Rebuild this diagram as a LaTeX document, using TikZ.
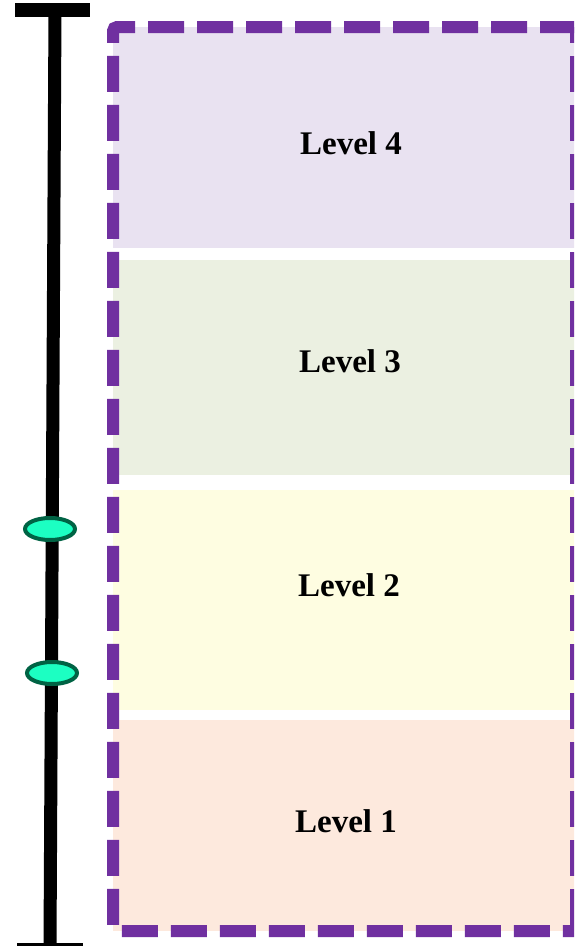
\documentclass[tikz,border=0pt]{standalone}
\usepackage{fontspec}
\setmainfont{Liberation Serif}
\usetikzlibrary{shapes.geometric}
\definecolor{lvfour}{HTML}{E9E2F1}
\definecolor{lvthree}{HTML}{EBF0E1}
\definecolor{lvtwo}{HTML}{FEFDE1}
\definecolor{lvone}{HTML}{FDE9DD}
\definecolor{dashpurple}{HTML}{7030A0}
\definecolor{markfill}{HTML}{1CFFC2}
\definecolor{markline}{HTML}{006344}
\tikzset{
  band/.style={draw=none, rectangle, inner sep=0pt, anchor=north west},
  lbl/.style={font=\fontsize{33}{36}\selectfont\bfseries, inner sep=0pt},
  marker/.style={ellipse, draw=markline, fill=markfill, line width=4pt,
    minimum width=50pt, minimum height=22pt, inner sep=0pt},
  axis/.style={line width=13pt, black},
  frame/.style={draw=dashpurple, line width=12pt, dash pattern=on 36pt off 13pt, rounded corners=4pt}
}
\begin{document}
\begin{tikzpicture}[x=1pt,y=-1pt]
\useasboundingbox (0,0) rectangle (574,946);
\clip (0,0) rectangle (574,946);
\fill[white] (0,0) rectangle (574,946);
% bands
\node[band, fill=lvfour, minimum width=463pt, minimum height=221pt] (b4) at (113,27) {};
\node[band, fill=lvthree, minimum width=463pt, minimum height=215pt] (b3) at (113,260) {};
\node[band, fill=lvtwo, minimum width=463pt, minimum height=220pt] (b2) at (113,490) {};
\node[band, fill=lvone, minimum width=463pt, minimum height=211pt] (b1) at (113,720) {};
% labels
\node[lbl] (l4) at (351,143) {Level 4};
\node[lbl] (l3) at (350,361) {Level 3};
\node[lbl] (l2) at (349,585) {Level 2};
\node[lbl] (l1) at (346,821) {Level 1};
% dashed frame
\draw[frame] (576,27) -- (113,27) -- (113,931) -- (576,931);
\draw[frame, dash phase=20pt] (576,27) -- (576,931);
% axis
\coordinate (atop) at (55,10);
\coordinate (abot) at (50,946);
\coordinate (tl) at (15,10);
\coordinate (tr) at (90,10);
\coordinate (bl) at (17,948);
\coordinate (br) at (83,948);
\draw[axis] (atop) -- (abot);
\draw[line width=14pt] (tl) -- (tr);
\draw[line width=10pt] (bl) -- (br);
\node[marker] (m1) at (50,529) {};
\node[marker] (m2) at (52,673) {};
\end{tikzpicture}
\end{document}
